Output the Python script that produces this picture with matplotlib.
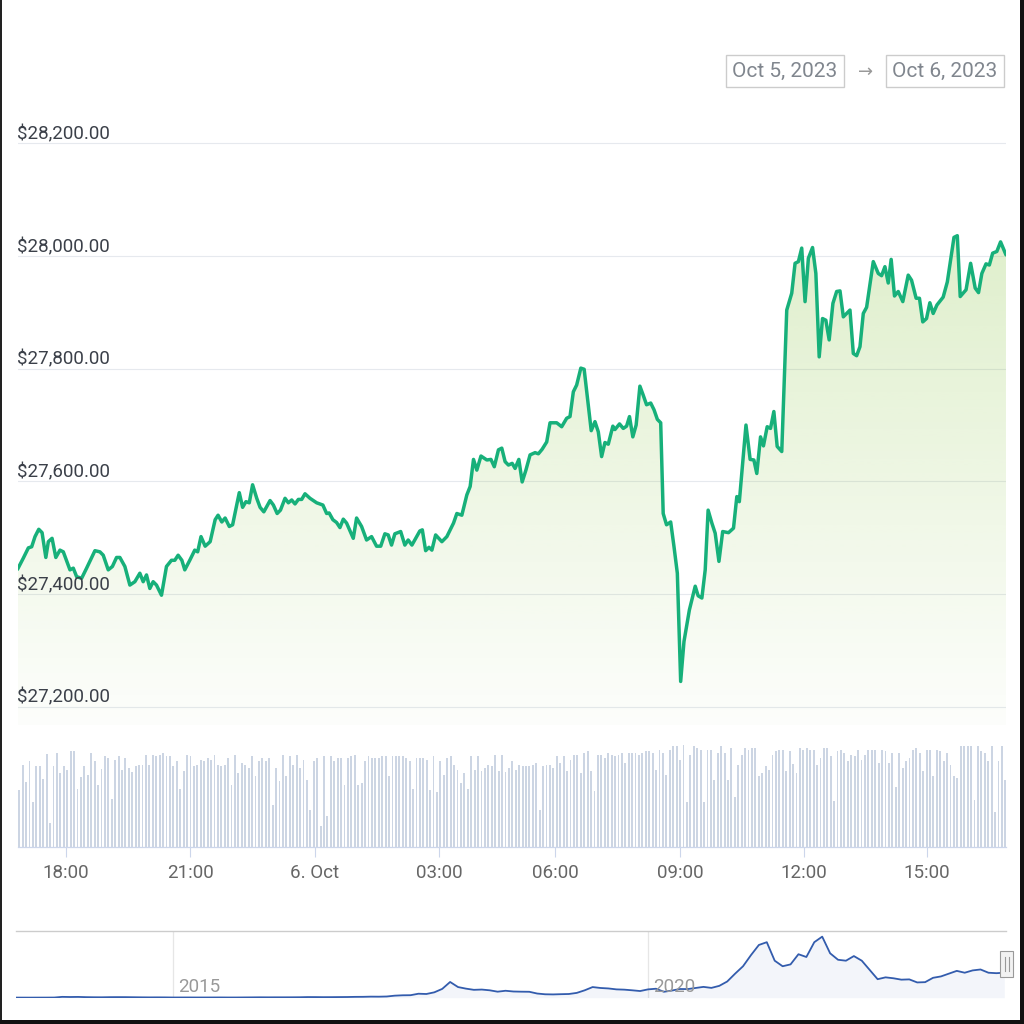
import numpy as np
import pandas as pd
import matplotlib
matplotlib.use("Agg")
import matplotlib.pyplot as plt
import matplotlib.transforms as mtransforms
from matplotlib.patches import Rectangle
from matplotlib.lines import Line2D
from matplotlib.colors import to_rgb

# ---------------- data ----------------
# price: hours relative to 6 Oct 00:00 (chart's ordinal time axis), USD
price_hours = [
    -7.15, -7.01, -6.89, -6.81, -6.73, -6.64, -6.56, -6.47, -6.41, -6.32,
    -6.23, -6.13, -6.05, -5.89, -5.81, -5.73, -5.61, -5.49, -5.29, -5.17,
    -5.09, -4.97, -4.87, -4.77, -4.69, -4.57, -4.45, -4.33, -4.21, -4.13,
    -4.05, -3.97, -3.89, -3.81, -3.69, -3.57, -3.45, -3.37, -3.29, -3.20,
    -3.13, -3.01, -2.89, -2.82, -2.74, -2.64, -2.52, -2.40, -2.33, -2.24,
    -2.16, -2.06, -1.98, -1.82, -1.74, -1.66, -1.58, -1.50, -1.40, -1.32,
    -1.23, -1.08, -1.00, -0.91, -0.83, -0.72, -0.64, -0.56, -0.48, -0.40,
    -0.32, -0.24, -0.12, 0.04, 0.19, 0.28, 0.34, 0.43, 0.52, 0.60,
    0.68, 0.76, 0.92, 1.00, 1.12, 1.24, 1.36, 1.48, 1.58, 1.68,
    1.76, 1.84, 1.92, 2.06, 2.16, 2.24, 2.33, 2.52, 2.58, 2.66,
    2.74, 2.81, 2.90, 3.05, 3.17, 3.33, 3.41, 3.53, 3.65, 3.73,
    3.81, 3.89, 3.99, 4.13, 4.23, 4.31, 4.41, 4.49, 4.57, 4.65,
    4.74, 4.81, 4.90, 4.98, 5.07, 5.17, 5.29, 5.37, 5.46, 5.57,
    5.65, 5.81, 5.93, 6.05, 6.13, 6.21, 6.29, 6.39, 6.47, 6.64,
    6.73, 6.81, 6.89, 6.97, 7.05, 7.16, 7.21, 7.32, 7.41, 7.49,
    7.56, 7.64, 7.72, 7.81, 7.89, 7.97, 8.07, 8.15, 8.23, 8.31,
    8.37, 8.45, 8.55, 8.63, 8.71, 8.79, 8.87, 9.00, 9.14, 9.21,
    9.30, 9.38, 9.45, 9.54, 9.62, 9.71, 9.80, 9.94, 10.06, 10.14,
    10.20, 10.36, 10.46, 10.55, 10.62, 10.71, 10.78, 10.87, 10.95, 11.03,
    11.11, 11.22, 11.34, 11.46, 11.54, 11.62, 11.70, 11.78, 11.86, 11.96,
    12.04, 12.12, 12.20, 12.28, 12.36, 12.45, 12.54, 12.62, 12.70, 12.86,
    12.94, 13.02, 13.10, 13.18, 13.26, 13.42, 13.54, 13.62, 13.70, 13.78,
    13.85, 13.93, 14.02, 14.13, 14.26, 14.34, 14.45, 14.53, 14.61, 14.70,
    14.78, 14.86, 14.95, 15.10, 15.20, 15.31, 15.36, 15.44, 15.51, 15.65,
    15.76, 15.87, 15.95, 16.03, 16.13, 16.21, 16.29, 16.39, 16.48, 16.61,
]
price_usd = [
    27444, 27464, 27482, 27484, 27502, 27515, 27509, 27465, 27493, 27499,
    27465, 27478, 27475, 27443, 27446, 27431, 27428, 27446, 27477, 27475,
    27469, 27443, 27449, 27465, 27465, 27449, 27416, 27422, 27437, 27422,
    27434, 27410, 27422, 27416, 27398, 27449, 27460, 27460, 27469, 27460,
    27443, 27460, 27478, 27475, 27502, 27485, 27493, 27532, 27540, 27528,
    27535, 27520, 27523, 27580, 27554, 27564, 27562, 27594, 27570, 27554,
    27546, 27566, 27558, 27543, 27549, 27570, 27562, 27567, 27560, 27568,
    27568, 27578, 27570, 27562, 27558, 27543, 27544, 27532, 27527, 27518,
    27533, 27526, 27499, 27535, 27520, 27496, 27502, 27485, 27485, 27507,
    27505, 27487, 27507, 27511, 27487, 27496, 27487, 27512, 27514, 27477,
    27483, 27478, 27505, 27493, 27502, 27526, 27543, 27540, 27576, 27591,
    27639, 27620, 27645, 27638, 27639, 27626, 27656, 27659, 27635, 27629,
    27632, 27623, 27639, 27599, 27620, 27647, 27651, 27649, 27657, 27670,
    27704, 27704, 27697, 27712, 27715, 27759, 27771, 27801, 27799, 27690,
    27706, 27688, 27644, 27669, 27666, 27698, 27692, 27702, 27694, 27698,
    27715, 27679, 27700, 27769, 27753, 27736, 27739, 27727, 27710, 27704,
    27543, 27523, 27528, 27484, 27437, 27245, 27316, 27372, 27414, 27397,
    27393, 27443, 27549, 27526, 27508, 27458, 27511, 27509, 27517, 27573,
    27564, 27700, 27639, 27638, 27614, 27679, 27663, 27697, 27694, 27724,
    27662, 27653, 27904, 27934, 27987, 27990, 28014, 27919, 27996, 28015,
    27969, 27821, 27889, 27886, 27851, 27916, 27937, 27938, 27892, 27904,
    27827, 27823, 27839, 27898, 27909, 27990, 27969, 27965, 27981, 27952,
    27994, 27929, 27937, 27919, 27966, 27957, 27925, 27925, 27883, 27889,
    27917, 27898, 27913, 27927, 27954, 28008, 28033, 28036, 27928, 27940,
    27987, 27943, 27935, 27969, 27986, 27984, 28005, 28008, 28025, 28002,
]

# volume bars (relative units), 5-minute bars
volume = [
    57, 82, 65, 86, 45, 81, 81, 68, 93, 24,
    81, 94, 74, 81, 77, 96, 96, 58, 70, 81,
    72, 94, 86, 62, 78, 91, 89, 48, 87, 91,
    77, 89, 79, 75, 81, 82, 82, 92, 82, 92,
    91, 92, 94, 91, 91, 81, 86, 58, 76, 92,
    91, 81, 82, 87, 86, 89, 87, 92, 82, 81,
    82, 89, 62, 92, 74, 84, 82, 79, 91, 71,
    86, 89, 86, 89, 42, 79, 66, 92, 71, 91,
    82, 92, 79, 87, 67, 37, 86, 89, 21, 91,
    31, 91, 86, 89, 89, 62, 89, 91, 92, 62,
    64, 86, 91, 89, 89, 89, 91, 91, 71, 91,
    91, 91, 91, 89, 86, 58, 89, 89, 89, 87,
    57, 91, 55, 86, 72, 89, 91, 82, 77, 64,
    74, 58, 91, 77, 91, 76, 79, 82, 81, 92,
    76, 92, 75,
    79, 86, 77, 82, 81, 81, 81, 82, 84, 37,
    81, 82, 82, 79, 91, 84, 91, 76, 87, 92,
    92, 74, 94, 96, 76, 56, 92, 92, 89, 94,
    92, 91, 92, 94, 84, 94, 94, 94, 92, 94,
    96, 96, 94, 77, 97, 94, 72, 97, 101, 101,
    87, 102, 45, 92, 101, 99, 97, 45, 97, 97,
    67, 94, 101, 94, 67, 99, 50, 82, 92, 99,
    97, 99, 99, 71, 74, 81, 77, 92, 96, 97,
    97, 76, 96, 83, 74, 99, 97, 99, 97, 97,
    82, 89, 99, 99, 91, 46, 96, 97, 94, 86,
    92, 91, 97, 87, 92, 97, 97, 97, 84, 97,
    96, 84, 94, 60, 94, 79, 86, 89, 97, 99,
    94, 76, 97, 97, 71, 97, 96, 86, 94, 82,
    71, 69, 101, 101, 101, 101, 47, 101, 96, 94,
    86, 101, 35, 86, 101, 67,
]
volume_first_hour = -7.108
volume_last_hour = 16.594

# y axis ticks
price_ticks = [27200, 27400, 27600, 27800, 28000, 28200]

# x axis ticks (positions on the ordinal time axis) and labels
time_tick_pos = [-5.99, -3.00, -0.01, 2.99, 5.78, 8.78, 11.76, 14.71]
time_tick_labels = ["18:00", "21:00", "6. Oct", "03:00", "06:00", "09:00", "12:00", "15:00"]

# navigator: monthly BTC price (USD), May 2013 .. Oct 2023
nav_price = [
    120, 105, 95, 120, 130, 180, 900, 750,
    850, 600, 480, 440, 580, 620, 600, 500, 400, 340, 370, 330,
    230, 250, 260, 230, 235, 250, 280, 230, 235, 300, 360, 430,
    390, 420, 415, 440, 500, 680, 660, 580, 610, 680, 740, 900,
    950, 1150, 1100, 1300, 2200, 2600, 2700, 4300, 4000, 5800, 9500, 17000,
    11500, 9800, 8500, 8800, 8000, 6500, 7500, 6700, 6500, 6400, 4500, 3700,
    3550, 3800, 4000, 5200, 8000, 11500, 10500, 10000, 9000, 8700, 8000, 7200,
    9000, 9700, 6400, 7700, 9400, 9300, 10500, 11700, 10600, 12800, 17500, 26000,
    34000, 46000, 57000, 60000, 40000, 34000, 36000, 47000, 44000, 60000, 66000, 48000,
    41000, 40000, 45000, 40000, 30000, 20000, 22000, 21000, 19500, 19800, 16500, 16800,
    21500, 23000, 26000, 29000, 27000, 29500, 30500, 27000, 26500, 27000,
]
nav_start_month = "2013-05-01"
nav_years_labels = [2015, 2020]

date_from = "Oct 5, 2023"
date_to = "Oct 6, 2023"

# ---------------- figure ----------------
plt.rcParams["font.family"] = ["Roboto", "DejaVu Sans"]
W = H = 1024
fig = plt.figure(figsize=(10.24, 10.24), dpi=100)
fig.patch.set_facecolor("white")


def add_axes_px(x0, y0, x1, y1):
    return fig.add_axes([x0 / W, 1 - y1 / H, (x1 - x0) / W, (y1 - y0) / H])


XLIM = (-7.151, 16.620)

# ---- price pane ----
ax = add_axes_px(17.5, 120, 1006.4, 725)
YLIM = (27167.7, 28241.3)
for v in price_ticks:
    ax.axhline(v, color="#e6e9ee", lw=0.8, zorder=0)

grad = np.zeros((256, 1, 4))
grad[..., :3] = to_rgb("#8dc647")
grad[:, 0, 3] = np.linspace(0.34, 0.02, 256)
im = ax.imshow(grad, extent=[XLIM[0], XLIM[1], YLIM[0], YLIM[1]], aspect="auto",
               origin="upper", zorder=1, interpolation="bilinear")
poly = ax.fill_between(price_hours, price_usd, YLIM[0], facecolor="none", edgecolor="none")
im.set_clip_path(poly.get_paths()[0], transform=ax.transData)
ax.plot(price_hours, price_usd, color="#17b07a", lw=2.5, solid_joinstyle="round",
        solid_capstyle="round", zorder=3)
ax.set_xlim(*XLIM)
ax.set_ylim(*YLIM)
ax.axis("off")

lab_tr = mtransforms.offset_copy(ax.get_yaxis_transform(), fig=fig, x=0, y=4, units="dots")
for v in price_ticks:
    ax.text(0, v, f"${v:,.2f}", transform=lab_tr, ha="left", va="baseline",
            fontsize=13.5, color="#3b4049", zorder=5)

# ---- volume pane ----
axv = add_axes_px(17.5, 744, 1006.4, 846.7)
vol_hours = np.linspace(volume_first_hour, volume_last_hour, len(volume))
axv.bar(vol_hours, volume, width=0.045, color="#ccd5e3", linewidth=0, zorder=2)
axv.set_xlim(*XLIM)
axv.set_ylim(0, 102.7)
for s in ["top", "left", "right"]:
    axv.spines[s].set_visible(False)
axv.spines["bottom"].set_color("#ccd6eb")
axv.spines["bottom"].set_linewidth(0.9)
axv.set_yticks([])
axv.set_xticks(time_tick_pos)
axv.tick_params(axis="x", length=7.2, width=0.8, color="#ccd6eb", labelbottom=False,
                direction="out")
axv.patch.set_alpha(0)
tick_tr = mtransforms.offset_copy(
    mtransforms.blended_transform_factory(axv.transData, axv.transAxes),
    fig=fig, x=0, y=-31.5, units="dots")
for p, lab in zip(time_tick_pos, time_tick_labels):
    axv.text(p, 0, lab, transform=tick_tr, ha="center", va="baseline",
             fontsize=13.5, color="#666666")

# ---- navigator ----
axn = add_axes_px(16, 931, 1006, 997.7)
nav_dates = pd.date_range(nav_start_month, periods=len(nav_price), freq="MS")
nav_x = nav_dates.year + (nav_dates.month - 1) / 12.0
for yr in nav_years_labels:
    axn.axvline(yr, color="#e6e6e6", lw=0.9, zorder=0)
axn.fill_between(nav_x, nav_price, 0, color="#335cad", alpha=0.06, lw=0, zorder=1)
axn.plot(nav_x, nav_price, color="#335cad", lw=1.3, zorder=2)
axn.set_xlim(2013.347, 2023.768)
axn.set_ylim(0, 72100)
for s in ["bottom", "left", "right"]:
    axn.spines[s].set_visible(False)
axn.spines["top"].set_color("#cccccc")
axn.spines["top"].set_linewidth(1.0)
axn.set_xticks([])
axn.set_yticks([])
axn.patch.set_alpha(0)
nav_tr = mtransforms.offset_copy(
    mtransforms.blended_transform_factory(axn.transData, axn.transAxes),
    fig=fig, x=5, y=6, units="dots")
for yr in nav_years_labels:
    axn.text(yr, 0, str(yr), transform=nav_tr, ha="left", va="baseline",
             fontsize=13.5, color="#999999")


def rect_px(x0, y0, x1, y1, **kw):
    r = Rectangle((x0 / W, 1 - y1 / H), (x1 - x0) / W, (y1 - y0) / H,
                  transform=fig.transFigure, **kw)
    fig.patches.append(r)


def line_px(xs, ys, **kw):
    fig.lines.append(Line2D([x / W for x in xs], [1 - y / H for y in ys],
                            transform=fig.transFigure, **kw))


# navigator handle
rect_px(1000, 951, 1013, 977, facecolor="#f2f2f2", edgecolor="#999999", lw=0.8)
line_px([1004.5, 1004.5], [957, 971], color="#999999", lw=0.8)
line_px([1008.5, 1008.5], [957, 971], color="#999999", lw=0.8)

# date range inputs
rect_px(726, 55, 844, 87, facecolor="white", edgecolor="#cccccc", lw=1.0)
rect_px(886, 55, 1004, 87, facecolor="white", edgecolor="#cccccc", lw=1.0)
fig.text(785 / W, 1 - 71.5 / H, date_from, ha="center", va="center", fontsize=15, color="#80868e")
fig.text(945 / W, 1 - 71.5 / H, date_to, ha="center", va="center", fontsize=15, color="#80868e")
fig.text(866 / W, 1 - 71.5 / H, "\u2192", ha="center", va="center", fontsize=13,
         color="#999999", family=["DejaVu Sans"])

# outer frame (screenshot border)
rect_px(0, 0, 2, 1024, facecolor="#222222", edgecolor="none")
rect_px(1020, 0, 1024, 1024, facecolor="#111111", edgecolor="none")
rect_px(0, 1020, 1024, 1024, facecolor="#111111", edgecolor="none")

fig.savefig("out.png", dpi=100, facecolor="white")
